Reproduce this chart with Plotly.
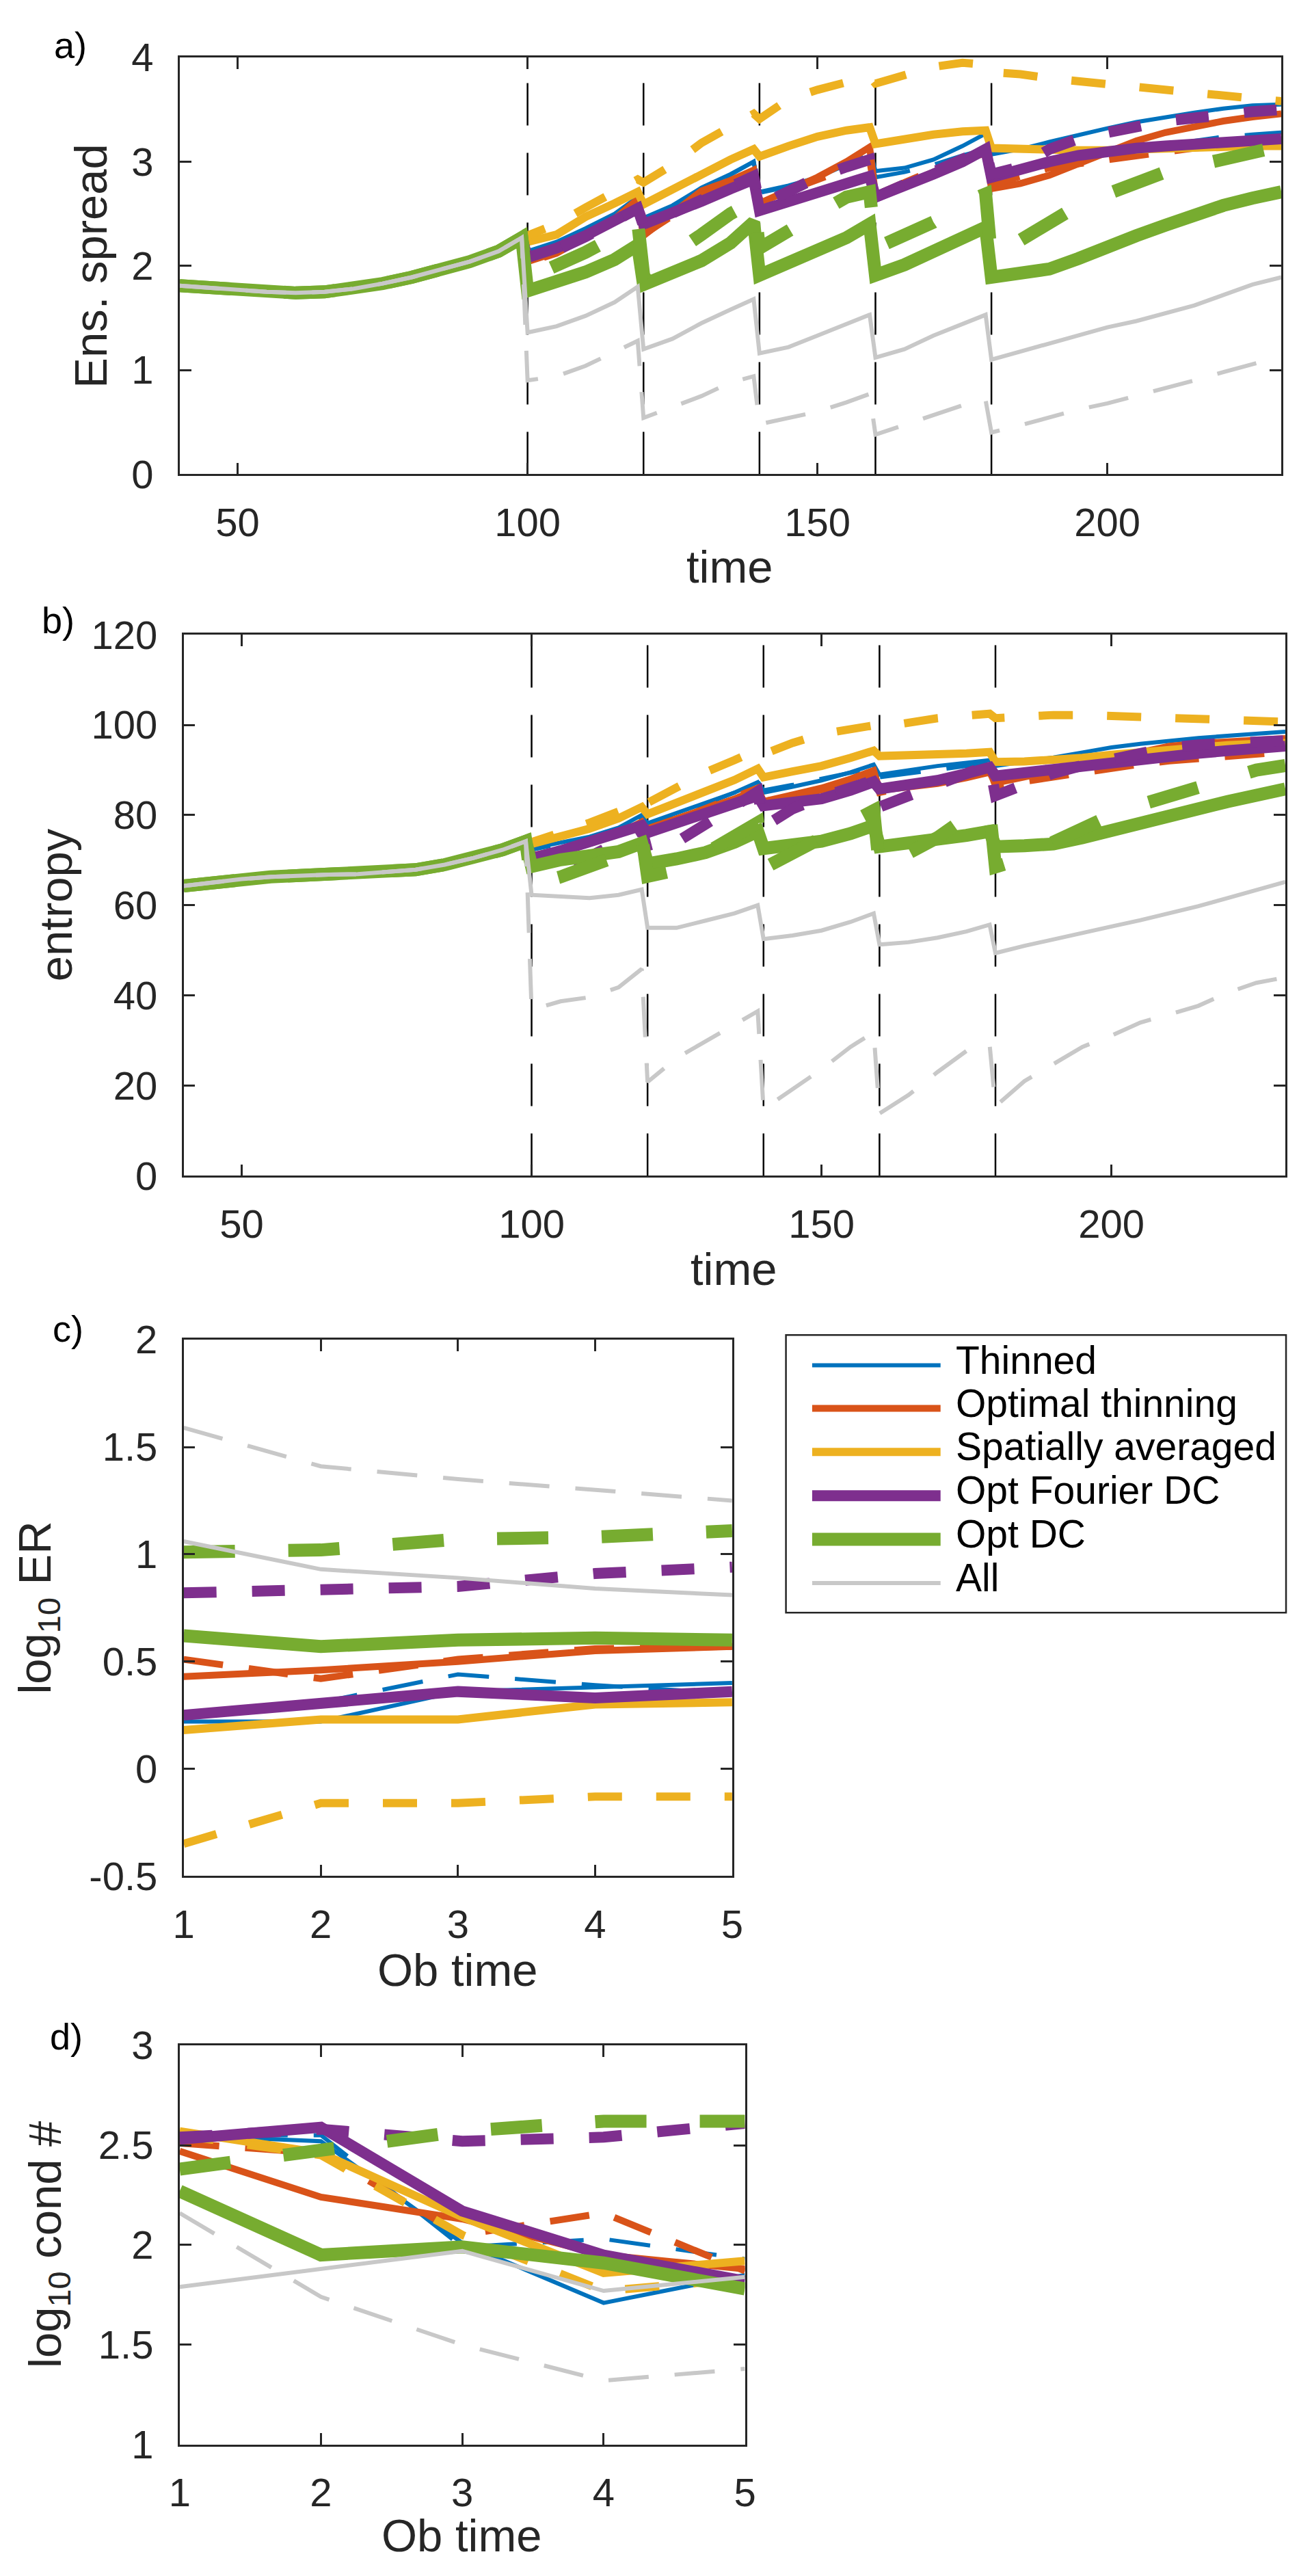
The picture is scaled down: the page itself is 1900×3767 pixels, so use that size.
import plotly.graph_objects as go

W, H = 1900, 3767
FONT = "Liberation Sans, Arial, Helvetica, sans-serif"
AX = "#262626"

# ---------------- data ----------------
time = [40, 45, 50, 55, 60, 65, 70, 75, 80, 85, 90, 95, 99,
        100, 105, 110, 115, 119, 120, 125, 130, 135, 139,
        140, 145, 150, 155, 159, 160, 165, 170, 175, 179,
        180, 185, 190, 195, 200, 205, 210, 215, 220, 225, 230]
ob_times = [100, 120, 140, 160, 180]
ob_index = [1, 2, 3, 4, 5]

methods = ["Thinned", "Optimal thinning", "Spatially averaged",
           "Opt Fourier DC", "Opt DC", "All"]
colors = ["#0072BD", "#D95319", "#EDB120", "#7E2F8E", "#77AC30", "#C8C8C8"]
widths = [6, 10, 12, 16, 19, 6]
dashes = ["60px,38px", "58px,38px", "50px,50px", "48px,52px", "75px,78px", "59px,38px"]

# free run before first observation (common to all)
free_spread = [1.81, 1.79, 1.77, 1.75, 1.74, 1.75, 1.78, 1.83, 1.89, 1.96, 2.04, 2.14, 2.27]
free_entropy = [64.3, 65.1, 65.8, 66.3, 66.6, 66.8, 66.9, 67.3, 67.9, 69.0, 70.5, 72.3, 74.2]

# (a) ensemble spread after t=100
spread_thinned = [2.14, 2.23, 2.36, 2.50, 2.66, 2.46, 2.58, 2.75, 2.88, 3.00,
                  2.71, 2.77, 2.85, 2.98, 3.14, 2.91, 2.94, 3.02, 3.15, 3.27,
                  3.07, 3.12, 3.19, 3.26, 3.32, 3.38, 3.43, 3.47, 3.51, 3.54, 3.55]
spread_thinned_d = [2.12, 2.22, 2.35, 2.49, 2.63, 2.44, 2.56, 2.72, 2.87, 3.00,
                    2.70, 2.76, 2.85, 2.97, 3.08, 2.85, 2.90, 2.97, 3.06, 3.12,
                    2.88, 2.92, 2.99, 3.03, 3.07, 3.10, 3.14, 3.20, 3.24, 3.26, 3.28]
spread_optthin = [2.04, 2.13, 2.28, 2.45, 2.64, 2.29, 2.50, 2.72, 2.82, 2.92,
                  2.60, 2.72, 2.85, 3.00, 3.14, 2.68, 2.78, 2.90, 3.02, 3.12,
                  2.74, 2.79, 2.87, 2.98, 3.10, 3.20, 3.28, 3.34, 3.39, 3.43, 3.46]
spread_optthin_d = [2.03, 2.12, 2.27, 2.43, 2.60, 2.30, 2.48, 2.68, 2.80, 2.90,
                    2.62, 2.72, 2.82, 2.93, 3.02, 2.68, 2.80, 2.92, 3.02, 3.08,
                    2.78, 2.86, 2.94, 2.98, 3.02, 3.06, 3.10, 3.13, 3.15, 3.17, 3.18]
spread_spatial = [2.23, 2.30, 2.47, 2.60, 2.71, 2.59, 2.74, 2.89, 3.02, 3.12,
                  3.05, 3.15, 3.24, 3.30, 3.33, 3.17, 3.22, 3.26, 3.29, 3.30,
                  3.13, 3.12, 3.11, 3.11, 3.11, 3.12, 3.13, 3.13, 3.14, 3.15, 3.15]
spread_spatial_d = [2.29, 2.40, 2.56, 2.70, 2.83, 2.80, 2.97, 3.18, 3.33, 3.46,
                    3.41, 3.60, 3.69, 3.77, 3.82, 3.75, 3.84, 3.91, 3.95, 3.93,
                    3.86, 3.84, 3.80, 3.77, 3.74, 3.71, 3.68, 3.65, 3.63, 3.60, 3.58]
spread_fourier = [2.08, 2.17, 2.29, 2.42, 2.55, 2.40, 2.50, 2.62, 2.74, 2.83,
                  2.53, 2.62, 2.72, 2.80, 2.86, 2.66, 2.76, 2.88, 3.00, 3.12,
                  2.85, 2.93, 3.00, 3.06, 3.10, 3.13, 3.15, 3.17, 3.18, 3.20, 3.22]
spread_fourier_d = [2.06, 2.15, 2.28, 2.42, 2.55, 2.38, 2.50, 2.63, 2.76, 2.86,
                    2.58, 2.72, 2.85, 2.95, 3.02, 2.66, 2.78, 2.90, 3.02, 3.12,
                    2.88, 2.95, 3.12, 3.22, 3.28, 3.34, 3.39, 3.42, 3.46, 3.48, 3.50]
spread_optdc = [1.76, 1.84, 1.94, 2.06, 2.20, 1.82, 1.92, 2.05, 2.22, 2.42,
                1.91, 2.02, 2.14, 2.27, 2.40, 1.91, 2.01, 2.13, 2.25, 2.37,
                1.89, 1.92, 1.97, 2.07, 2.19, 2.29, 2.39, 2.49, 2.58, 2.65, 2.71]
spread_optdc_d = [1.88, 2.00, 2.13, 2.28, 2.42, 1.92, 2.10, 2.30, 2.50, 2.62,
                  2.17, 2.32, 2.50, 2.66, 2.71, 2.17, 2.28, 2.42, 2.60, 2.69,
                  2.08, 2.24, 2.42, 2.58, 2.69, 2.80, 2.90, 2.96, 3.03, 3.10, 3.15]
spread_all = [1.36, 1.42, 1.52, 1.65, 1.80, 1.20, 1.30, 1.45, 1.58, 1.68,
              1.16, 1.22, 1.33, 1.44, 1.53, 1.12, 1.20, 1.33, 1.44, 1.53,
              1.10, 1.18, 1.26, 1.34, 1.41, 1.47, 1.54, 1.62, 1.72, 1.82, 1.89]
spread_all_d = [0.90, 0.94, 1.04, 1.17, 1.28, 0.54, 0.64, 0.75, 0.88, 0.94,
                0.48, 0.54, 0.60, 0.69, 0.77, 0.38, 0.47, 0.57, 0.66, 0.71,
                0.40, 0.47, 0.55, 0.62, 0.68, 0.75, 0.83, 0.90, 0.98, 1.06, 1.13]

# (b) entropy after t=100
entropy_thinned = [72.6, 73.8, 75.2, 77.2, 80.0, 78.2, 80.5, 82.7, 85.0, 87.3,
                   85.0, 86.3, 87.7, 89.5, 91.2, 89.0, 90.0, 90.9, 91.6, 92.2,
                   90.9, 91.8, 92.8, 93.9, 95.0, 95.8, 96.5, 97.1, 97.6, 98.1, 98.5]
entropy_thinned_d = [72.3, 73.6, 75.0, 77.0, 79.5, 77.5, 80.0, 82.5, 85.0, 87.5,
                     85.5, 86.7, 88.0, 89.3, 90.5, 88.4, 89.3, 90.1, 90.9, 91.5,
                     89.0, 90.0, 91.0, 91.8, 92.5, 93.2, 93.8, 94.3, 94.8, 95.2, 95.5]
entropy_optthin = [71.0, 72.3, 73.9, 75.8, 78.0, 77.0, 79.2, 81.4, 83.6, 85.8,
                   83.0, 84.5, 86.0, 88.0, 89.9, 85.5, 86.2, 87.0, 88.3, 89.5,
                   87.1, 88.5, 89.9, 91.2, 92.5, 93.9, 95.3, 95.9, 96.3, 96.7, 97.0]
entropy_optthin_d = [70.8, 72.2, 73.7, 75.8, 78.5, 76.5, 79.0, 81.5, 84.0, 86.0,
                     83.0, 84.2, 85.6, 87.3, 89.0, 85.0, 86.3, 87.6, 88.9, 90.0,
                     86.5, 87.5, 88.5, 89.5, 90.5, 91.3, 92.0, 92.5, 93.0, 93.5, 94.0]
entropy_spatial = [73.6, 75.2, 77.0, 79.3, 81.8, 80.2, 82.7, 85.2, 87.8, 90.3,
                   88.4, 89.7, 90.9, 92.7, 94.3, 93.1, 93.2, 93.4, 93.7, 94.0,
                   91.8, 91.9, 92.1, 92.7, 93.4, 94.0, 94.7, 95.1, 95.5, 95.8, 96.0]
entropy_spatial_d = [74.0, 76.0, 78.3, 80.8, 83.3, 82.7, 86.3, 89.5, 92.2, 94.5,
                     93.5, 96.0, 98.0, 99.2, 99.9, 99.5, 100.6, 101.5, 102.1, 102.5,
                     101.5, 101.9, 102.2, 102.2, 102.0, 101.8, 101.5, 101.3, 101.2, 101.0, 100.7]
entropy_fourier = [70.4, 72.1, 73.9, 75.8, 77.7, 76.1, 78.2, 80.2, 82.3, 84.3,
                   82.1, 82.8, 83.6, 85.5, 87.4, 85.8, 86.7, 87.7, 89.2, 90.6,
                   88.7, 89.5, 90.3, 91.1, 91.8, 92.5, 93.1, 93.7, 94.3, 94.8, 95.3]
entropy_fourier_d = [69.5, 69.3, 70.8, 74.0, 77.0, 72.0, 74.0, 78.0, 82.0, 85.2,
                     77.4, 81.4, 84.0, 86.0, 87.7, 81.8, 84.3, 86.5, 89.0, 91.2,
                     84.3, 87.0, 89.3, 91.0, 92.5, 93.8, 95.0, 95.6, 96.0, 96.3, 96.5]
entropy_optdc = [68.6, 70.1, 71.1, 71.9, 73.8, 69.2, 70.3, 71.7, 74.0, 76.4,
                 72.6, 73.3, 74.2, 75.9, 77.7, 73.0, 73.7, 74.5, 75.5, 76.4,
                 73.0, 73.2, 73.6, 75.0, 76.7, 78.3, 79.9, 81.5, 83.0, 84.4, 85.8]
entropy_optdc_d = [64.5, 66.3, 68.6, 71.0, 75.5, 66.4, 67.8, 71.5, 76.0, 78.3,
                   68.2, 71.5, 75.0, 78.8, 81.0, 68.2, 71.5, 75.0, 79.5, 81.0,
                   68.5, 70.5, 74.0, 77.3, 80.0, 82.3, 84.3, 86.0, 87.8, 90.0, 91.0]
entropy_all = [62.3, 62.0, 61.6, 62.3, 63.5, 55.0, 55.0, 56.6, 58.2, 60.0,
               52.5, 53.3, 54.4, 56.3, 58.2, 51.3, 51.8, 52.8, 54.2, 55.7,
               49.4, 51.0, 52.5, 53.9, 55.3, 56.7, 58.2, 59.8, 61.6, 63.4, 65.2]
entropy_all_d = [36.8, 38.7, 39.6, 41.8, 45.9, 20.8, 26.1, 29.9, 33.6, 36.5,
                 14.8, 19.2, 23.6, 28.6, 31.8, 13.8, 17.9, 23.0, 27.7, 29.0,
                 15.4, 21.0, 24.8, 28.6, 31.1, 34.0, 35.8, 37.7, 40.6, 42.8, 44.0]

# (c) log10 ER per ob time
er_thinned = [0.22, 0.22, 0.36, 0.38, 0.40]
er_thinned_d = [0.24, 0.31, 0.44, 0.39, 0.35]
er_optthin = [0.43, 0.46, 0.50, 0.55, 0.57]
er_optthin_d = [0.51, 0.42, 0.51, 0.56, 0.57]
er_spatial = [0.18, 0.23, 0.23, 0.30, 0.31]
er_spatial_d = [-0.35, -0.16, -0.16, -0.13, -0.13]
er_fourier = [0.25, 0.30, 0.36, 0.33, 0.36]
er_fourier_d = [0.82, 0.84, 0.85, 0.91, 0.94]
er_optdc = [0.62, 0.57, 0.60, 0.61, 0.60]
er_optdc_d = [1.01, 1.02, 1.07, 1.08, 1.11]
er_all = [1.06, 0.93, 0.89, 0.84, 0.81]
er_all_d = [1.59, 1.41, 1.35, 1.30, 1.25]

# (d) log10 condition number per ob time
cond_thinned = [2.55, 2.52, 2.01, 1.71, 1.85]
cond_thinned_d = [2.55, 2.55, 1.99, 2.03, 1.93]
cond_optthin = [2.47, 2.24, 2.13, 1.95, 1.88]
cond_optthin_d = [2.51, 2.46, 2.05, 2.16, 1.87]
cond_spatial = [2.57, 2.46, 2.14, 1.86, 1.92]
cond_spatial_d = [2.55, 2.45, 2.05, 1.77, 1.83]
cond_fourier = [2.53, 2.59, 2.17, 1.95, 1.82]
cond_fourier_d = [2.54, 2.58, 2.52, 2.54, 2.61]
cond_optdc = [2.27, 1.95, 1.99, 1.91, 1.78]
cond_optdc_d = [2.38, 2.47, 2.57, 2.62, 2.62]
cond_all = [1.79, 1.88, 1.97, 1.77, 1.84]
cond_all_d = [2.16, 1.74, 1.50, 1.32, 1.38]

spread_series = [(spread_thinned, spread_thinned_d), (spread_optthin, spread_optthin_d),
                 (spread_spatial, spread_spatial_d), (spread_fourier, spread_fourier_d),
                 (spread_optdc, spread_optdc_d), (spread_all, spread_all_d)]
entropy_series = [(entropy_thinned, entropy_thinned_d), (entropy_optthin, entropy_optthin_d),
                  (entropy_spatial, entropy_spatial_d), (entropy_fourier, entropy_fourier_d),
                  (entropy_optdc, entropy_optdc_d), (entropy_all, entropy_all_d)]
er_series = [(er_thinned, er_thinned_d), (er_optthin, er_optthin_d),
             (er_spatial, er_spatial_d), (er_fourier, er_fourier_d),
             (er_optdc, er_optdc_d), (er_all, er_all_d)]
cond_series = [(cond_thinned, cond_thinned_d), (cond_optthin, cond_optthin_d),
               (cond_spatial, cond_spatial_d), (cond_fourier, cond_fourier_d),
               (cond_optdc, cond_optdc_d), (cond_all, cond_all_d)]

# ---------------- layout helpers ----------------
def fx(p):
    return p / W

def fy(p):
    return 1 - p / H

# panel boxes in pixels: (left, right, top, bottom)
boxes = {
    "a": (251, 1890, 52, 672),
    "b": (257, 1896, 911, 1716),
    "c": (257, 1073, 1960, 2758),
    "d": (251, 1092, 3010, 3604),
}

fig = go.Figure()

def add_obs_lines(xa, ya, ytop):
    xs, ys = [], []
    for t in ob_times:
        xs += [t, t, None]
        ys += [0, ytop, None]
    fig.add_trace(go.Scatter(x=xs, y=ys, mode="lines", xaxis=xa, yaxis=ya,
                             line=dict(color="black", width=2.5, dash="62px,40px"),
                             showlegend=False, hoverinfo="skip"))

def add_series(xvals, series, xa, ya, prefix=None):
    for i, (s, d) in enumerate(series):
        ys = (prefix + s) if prefix is not None else s
        yd = (prefix + d) if prefix is not None else d
        fig.add_trace(go.Scatter(x=xvals, y=ys, mode="lines", xaxis=xa, yaxis=ya,
                                 name=methods[i], showlegend=False,
                                 line=dict(color=colors[i], width=widths[i])))
        fig.add_trace(go.Scatter(x=xvals, y=yd, mode="lines", xaxis=xa, yaxis=ya,
                                 name=methods[i] + " (dashed)", showlegend=False,
                                 line=dict(color=colors[i], width=widths[i], dash=dashes[i])))

add_obs_lines("x", "y", 4)
add_series(time, spread_series, "x", "y", free_spread)
add_obs_lines("x2", "y2", 120)
add_series(time, entropy_series, "x2", "y2", free_entropy)
add_series(ob_index, er_series, "x3", "y3")
add_series(ob_index, cond_series, "x4", "y4")

common = dict(showline=True, linecolor=AX, linewidth=2.5, mirror="ticks",
              ticks="inside", ticklen=17, tickwidth=2.5, tickcolor=AX,
              showgrid=False, zeroline=False,
              tickfont=dict(family=FONT, size=58, color=AX))

def xax(key, rng, tv, anchor):
    l, r, t, b = boxes[key]
    d = dict(common)
    d.update(domain=[fx(l), fx(r)], range=rng, tickvals=tv,
             ticktext=[str(v) for v in tv], anchor=anchor, ticklabelstandoff=18)
    return d

def yax(key, rng, tv, tt, anchor):
    l, r, t, b = boxes[key]
    d = dict(common)
    d.update(domain=[fy(b), fy(t)], range=rng, tickvals=tv, ticktext=tt,
             anchor=anchor, ticklabelstandoff=24)
    return d

fig.update_layout(
    width=W, height=H, autosize=False,
    margin=dict(l=0, r=0, t=0, b=0, pad=0),
    paper_bgcolor="white", plot_bgcolor="white",
    showlegend=False,
    xaxis=xax("a", [40, 230], [50, 100, 150, 200], "y"),
    yaxis=yax("a", [0, 4], [0, 1, 2, 3, 4], ["0", "1", "2", "3", "4"], "x"),
    xaxis2=xax("b", [40, 230], [50, 100, 150, 200], "y2"),
    yaxis2=yax("b", [0, 120], [0, 20, 40, 60, 80, 100, 120],
               ["0", "20", "40", "60", "80", "100", "120"], "x2"),
    xaxis3=xax("c", [1, 5], [1, 2, 3, 4, 5], "y3"),
    yaxis3=yax("c", [-0.5, 2], [-0.5, 0, 0.5, 1, 1.5, 2],
               ["-0.5", "0", "0.5", "1", "1.5", "2"], "x3"),
    xaxis4=xax("d", [1, 5], [1, 2, 3, 4, 5], "y4"),
    yaxis4=yax("d", [1, 3], [1, 1.5, 2, 2.5, 3], ["1", "1.5", "2", "2.5", "3"], "x4"),
)

annotations = []

def ann(text, x, y, size, color=AX, angle=0, xanchor="center"):
    annotations.append(dict(text=text, x=fx(x), y=fy(y), xref="paper", yref="paper",
                            showarrow=False, textangle=angle, xanchor=xanchor,
                            yanchor="middle", font=dict(family=FONT, size=size, color=color)))

# panel labels
ann("a)", 88, 34, 54, "black")
ann("b)", 70, 889, 54, "black")
ann("c)", 85, 1944, 54, "black")
ann("d)", 82, 2997, 54, "black")
# axis titles
ann("time", 1070, 809, 67)
ann("time", 1076, 1854, 67)
ann("Ob time", 665, 2897, 67)
ann("Ob time", 671, 3739, 67)
ann("Ens. spread", 119, 362, 67, angle=-90)
ann("entropy", 66, 1313, 67, angle=-90)
ann("log<sub>10</sub> ER", 40, 2359, 67, angle=-90)
ann("log<sub>10</sub> cond #", 56, 3307, 67, angle=-90)

# legend (drawn manually to match long line samples)
shapes = [dict(type="rect", xref="paper", yref="paper",
               x0=fx(1153), x1=fx(1897), y0=fy(2366), y1=fy(1953),
               line=dict(color=AX, width=2.5), fillcolor="white", layer="below")]
row_y = [1998, 2062, 2127, 2192, 2257, 2322]
for i, m in enumerate(methods):
    shapes.append(dict(type="line", xref="paper", yref="paper",
                       x0=fx(1192), x1=fx(1383), y0=fy(row_y[i]), y1=fy(row_y[i]),
                       line=dict(color=colors[i], width=widths[i])))
    ann(m, 1404, row_y[i] - 8, 57, "black", xanchor="left")

fig.update_layout(annotations=annotations, shapes=shapes)

fig.write_html("out.html", config={"displayModeBar": False},
               post_script="document.body.style.margin='0px';document.body.style.overflow='hidden';")
